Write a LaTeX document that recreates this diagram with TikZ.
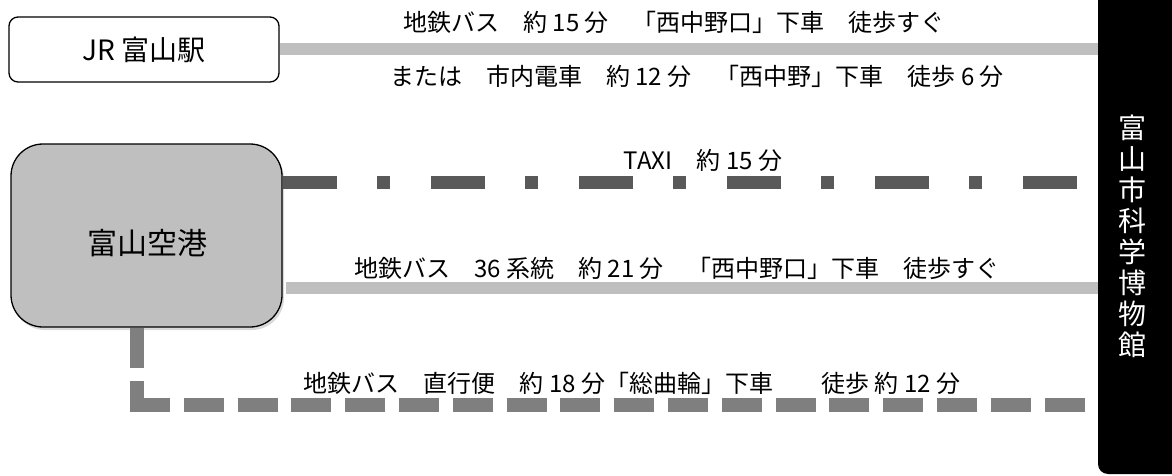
\documentclass[tikz,border=0pt]{standalone}
\usepackage{fontspec}
\setmainfont{Noto Sans CJK JP}
\usetikzlibrary{shadows}
\definecolor{lightbar}{HTML}{BFBFBF}
\definecolor{taxigray}{HTML}{595959}
\definecolor{busgray}{HTML}{7F7F7F}
\begin{document}
\begin{tikzpicture}[x=1pt,y=-1pt,
  lbl/.style={font=\fontsize{24}{28}\selectfont, inner sep=0pt},
  stationbox/.style={draw=black, line width=1.3pt, rounded corners=9pt, fill=white,
    minimum width=270pt, minimum height=65pt, font=\fontsize{28}{32}\selectfont},
  airportbox/.style={draw=black, line width=1.3pt, rounded corners=32pt, fill=lightbar,
    minimum width=271pt, minimum height=183pt,
    drop shadow={opacity=0.3, shadow xshift=2pt, shadow yshift=-3pt}},
  museumbar/.style={fill=black, rounded corners=10pt, minimum width=100pt,
    minimum height=494pt, inner sep=0pt},
  railline/.style={line width=12pt, lightbar},
  taxiline/.style={line width=13pt, taxigray,
    dash pattern=on 54pt off 40.5pt on 13pt off 40.5pt},
  busline/.style={line width=14pt, busgray, dash pattern=on 40pt off 13.8pt},
]
\useasboundingbox (0,0) rectangle (1172,476);
% destination bar
\node[museumbar] (mus) at (1148,227) {};
\node[text=white, font=\fontsize{28}{31}\selectfont, align=center, inner sep=0pt]
  (musname) at (1132,236) {富\\山\\市\\科\\学\\博\\物\\館};
% origins
\node[stationbox] (jr) at (144,49.5) {JR 富山駅};
\node[airportbox] (air) at (146.5,235.5) {};
\node[font=\fontsize{30}{34}\selectfont, inner sep=0pt] (airname) at (147,243) {富山空港};
% helper coordinates
\coordinate (taxiy) at (0,182);
\coordinate (busy) at (0,288);
\coordinate (corner) at (137,405);
% connectors
\draw[railline] (jr.east) -- (jr.east -| mus.west);
\draw[taxiline] (air.east |- taxiy) -- (mus.west |- taxiy);
\draw[railline] ([xshift=3pt]air.east |- busy) -- (mus.west |- busy);
\draw[busline] (air.south -| corner) -- ([yshift=-7pt]corner);
\draw[busline] ([xshift=-7pt]corner) -- (mus.west |- corner);
% labels
\node[lbl] (t1) at (674,22) {地鉄バス　約 15 分　「西中野口」下車　徒歩すぐ};
\node[lbl] (t2) at (697,76) {または　市内電車　約 12 分　「西中野」下車　徒歩 6 分};
\node[lbl] (t3) at (703,160) {TAXI　約 15 分};
\node[lbl] (t4) at (677,268) {地鉄バス　36 系統　約 21 分　「西中野口」下車　徒歩すぐ};
\node[lbl] (t5) at (632,383) {地鉄バス　直行便　約 18 分「総曲輪」下車　　徒歩 約 12 分};
\end{tikzpicture}
\end{document}
